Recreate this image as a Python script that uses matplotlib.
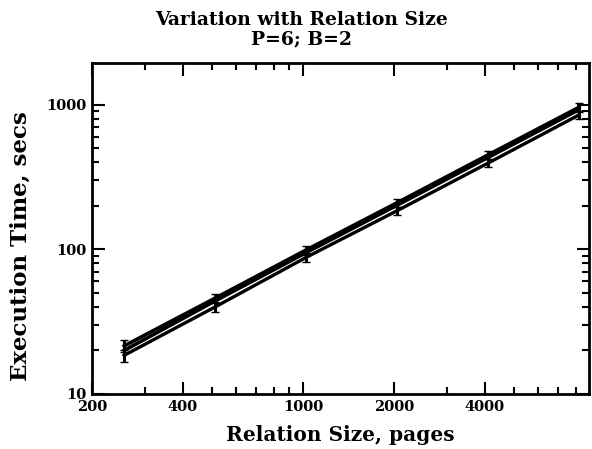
import numpy as np
import matplotlib
matplotlib.use('Agg')
import matplotlib.pyplot as plt
from matplotlib.ticker import FixedLocator, LogLocator, NullFormatter

# relation size (pages) and execution time (secs) for the three runs
pages = [256, 512, 1024, 2048, 4096, 8192]
run_a = [21.5, 46, 99, 210, 450, 960]
run_b = [20.0, 44, 95, 202, 432, 925]
run_c = [18.5, 40, 88, 185, 395, 850]
err_a = [2.0, 3.5, 7, 14, 30, 65]
err_c = [1.8, 3.0, 6, 12, 25, 55]

xticks = [200, 400, 1000, 2000, 4000]
yticks = [10, 100, 1000]

plt.rcParams['font.family'] = ['DejaVu Serif']
plt.rcParams['font.weight'] = 'bold'

fig = plt.figure(figsize=(5.92, 4.49), dpi=100)
ax = fig.add_axes([0.155, 0.1225, 0.84, 0.7375])

ax.errorbar(pages, run_a, yerr=err_a, color='black', lw=2.6, capsize=3, elinewidth=2.2)
ax.plot(pages, run_b, color='black', lw=2.6)
ax.errorbar(pages, run_c, yerr=err_c, color='black', lw=2.4, capsize=3, elinewidth=2.2)

ax.set_xscale('log')
ax.set_yscale('log')
ax.set_xlim(200, 8850)
ax.set_ylim(10, 1950)

ax.xaxis.set_major_locator(FixedLocator(xticks))
ax.set_xticklabels([str(t) for t in xticks])
ax.xaxis.set_minor_locator(LogLocator(base=10, subs=np.arange(2, 10)))
ax.xaxis.set_minor_formatter(NullFormatter())
ax.yaxis.set_major_locator(FixedLocator(yticks))
ax.set_yticklabels([str(t) for t in yticks])
ax.yaxis.set_minor_locator(LogLocator(base=10, subs=np.arange(2, 10)))
ax.yaxis.set_minor_formatter(NullFormatter())

ax.tick_params(which='both', direction='in', top=True, right=True, width=1.5,
               labelsize=10.5, pad=4)
ax.tick_params(which='major', length=9)
ax.tick_params(which='minor', length=5)
for s in ax.spines.values():
    s.set_linewidth(2)

for lab in ax.get_xticklabels() + ax.get_yticklabels():
    lab.set_fontweight('bold')

ax.set_xlabel('Relation Size, pages', fontsize=14.5, fontweight='bold', labelpad=8)
ax.set_ylabel('Execution Time, secs', fontsize=16.5, fontweight='bold')
ax.yaxis.set_label_coords(-0.12, 0.447)
ax.set_title('Variation with Relation Size\nP=6; B=2', fontsize=13.5,
             fontweight='bold', linespacing=1.1, pad=13, x=0.4225)

plt.savefig('out.png', dpi=100)
